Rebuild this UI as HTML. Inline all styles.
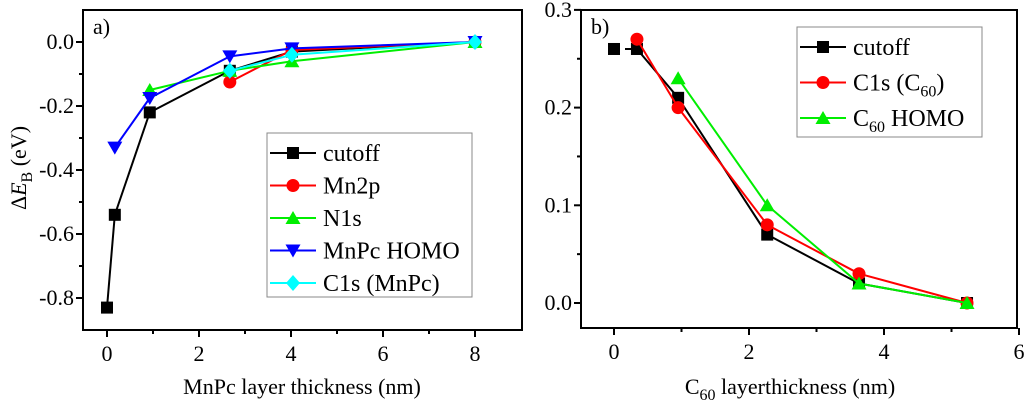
<!DOCTYPE html>
<html><head><meta charset="utf-8"><style>
html,body{margin:0;padding:0;background:#fff;}
svg{display:block;}
svg text{font-family:"Liberation Serif","Times New Roman",Times,"DejaVu Serif",serif !important;}
</style></head><body>
<svg id="c" width="1024" height="408" viewBox="0 0 1024 408" xmlns="http://www.w3.org/2000/svg"></svg>
<script>
// Panel a data
const aCutoffX=[0,0.17,0.93,2.67,4.02,8], aCutoffY=[-0.83,-0.54,-0.22,-0.09,-0.03,0];
const aMn2pX=[2.67,4.02,8], aMn2pY=[-0.125,-0.025,0];
const aN1sX=[0.93,2.67,4.02,8], aN1sY=[-0.15,-0.09,-0.06,0];
const aHomoX=[0.17,0.93,2.67,4.02,8], aHomoY=[-0.33,-0.175,-0.045,-0.02,0];
const aC1sX=[2.67,4.02,8], aC1sY=[-0.09,-0.04,0];
const aXTicks=[0,2,4,6,8], aYTicks=[0,-0.2,-0.4,-0.6,-0.8];
const aYLabels=["0.0","-0.2","-0.4","-0.6","-0.8"];
// Panel b data
const bCutoffX=[0,0.34,0.95,2.27,3.63,5.23], bCutoffY=[0.26,0.26,0.21,0.07,0.02,0];
const bC1sX=[0.34,0.95,2.27,3.63,5.23], bC1sY=[0.27,0.2,0.08,0.03,0];
const bHomoX=[0.95,2.27,3.63,5.23], bHomoY=[0.23,0.10,0.02,0];
const bXTicks=[0,2,4,6], bYTicks=[0,0.1,0.2,0.3];
const bYLabels=["0.0","0.1","0.2","0.3"];

const svg=document.getElementById('c');
const NS="http://www.w3.org/2000/svg";
function el(tag,attrs,parent){const e=document.createElementNS(NS,tag);for(const k in attrs)e.setAttribute(k,attrs[k]);if(tag==='text')e.setAttribute('style','font-family:"Liberation Serif","Times New Roman",serif');(parent||svg).appendChild(e);return e;}

function marker(g,type,x,y,color){
  let m;
  if(type==='sq') m=el('rect',{x:x-6,y:y-6,width:12,height:12,fill:color},g);
  else if(type==='ci') m=el('circle',{cx:x,cy:y,r:6.5,fill:color},g);
  else if(type==='up') m=el('polygon',{points:`${x},${y-7} ${x-7.5},${y+6} ${x+7.5},${y+6}`,fill:color},g);
  else if(type==='dn') m=el('polygon',{points:`${x},${y+7} ${x-7.5},${y-6} ${x+7.5},${y-6}`,fill:color},g);
  else m=el('polygon',{points:`${x},${y-8} ${x+7},${y} ${x},${y+8} ${x-7},${y}`,fill:color},g);
  
  
}
function series(name,xs,ys,sx,sy,color,type,dashFirst){
  const g=el('g',{});
  
  
  for(let i=0;i<xs.length-1;i++){
    const l=el('line',{x1:sx(xs[i]),y1:sy(ys[i]),x2:sx(xs[i+1]),y2:sy(ys[i+1]),stroke:color,'stroke-width':2},g);
    if(dashFirst&&i===0)l.setAttribute('stroke-dasharray','6,5');
  }
  xs.forEach((x,i)=>marker(g,type,sx(x),sy(ys[i]),color));
}
function frame(name,L,T,R,B,sx,sy,xt,xMinor,yt,ylab,yMinor){
  const g=el('g',{});
  
  
  el('rect',{x:L,y:T,width:R-L,height:B-T,fill:'none',stroke:'#000','stroke-width':2},g);
  xt.forEach(v=>{const x=sx(v);el('line',{x1:x,y1:B,x2:x,y2:B+7,stroke:'#000','stroke-width':2},g);
    const t=el('text',{x:x,y:B+31,'font-size':22,'text-anchor':'middle'},g);t.textContent=v;
    });
  xMinor.forEach(v=>{const x=sx(v);el('line',{x1:x,y1:B,x2:x,y2:B+4,stroke:'#000','stroke-width':2},g);});
  yt.forEach((v,i)=>{const y=sy(v);el('line',{x1:L-7,y1:y,x2:L,y2:y,stroke:'#000','stroke-width':2},g);
    const t=el('text',{x:L-9,y:y+7,'font-size':22,'text-anchor':'end'},g);t.textContent=ylab[i];
    });
  yMinor.forEach(v=>{const y=sy(v);el('line',{x1:L-4,y1:y,x2:L,y2:y,stroke:'#000','stroke-width':2},g);});
}
// Panel a
const aL=83,aT=10,aR=522,aB=330;
const ax=v=>107+v*46, ay=v=>42-v*320;
frame('panel-a-axes',aL,aT,aR,aB,ax,ay,aXTicks,[1,3,5,7],aYTicks,aYLabels,[-0.1,-0.3,-0.5,-0.7]);
series('series-cutoff-a',aCutoffX,aCutoffY,ax,ay,'#000','sq');
series('series-mn2p',aMn2pX,aMn2pY,ax,ay,'#ff0000','ci');
series('series-n1s',aN1sX,aN1sY,ax,ay,'#00ee00','up');
series('series-mnpc-homo',aHomoX,aHomoY,ax,ay,'#0000ff','dn');
series('series-c1s-mnpc',aC1sX,aC1sY,ax,ay,'#00ffff','di');
// Panel b
const bL=581,bT=10,bR=1017,bB=328;
const bx=v=>614+v*67.5, by=v=>303-v*977;
frame('panel-b-axes',bL,bT,bR,bB,bx,by,bXTicks,[1,3,5],bYTicks,bYLabels,[0.05,0.15,0.25]);
series('series-cutoff-b',bCutoffX,bCutoffY,bx,by,'#000','sq',true);
series('series-c1s-c60',bC1sX,bC1sY,bx,by,'#ff0000','ci');
series('series-c60-homo',bHomoX,bHomoY,bx,by,'#00ee00','up');

function legend(name,x,y,w,h,items,rowH){
  const g=el('g',{});
  
  
  el('rect',{x:x,y:y,width:w,height:h,fill:'#fff',stroke:'#888','stroke-width':1},g);
  items.forEach((it,i)=>{
    const cy=y+20+i*rowH;
    const e=el('g',{},g);
    
    
    el('line',{x1:x+3,y1:cy,x2:x+49,y2:cy,stroke:it[1],'stroke-width':2},e);
    marker(e,it[2],x+26,cy,it[1]);
    const t=el('text',{x:x+56,y:cy+8,'font-size':24},e);
    t.innerHTML=it[0];
  });
}
legend('legend-a',267,133,205,164,[['cutoff','#000','sq'],['Mn2p','#ff0000','ci'],['N1s','#00ee00','up'],['MnPc HOMO','#0000ff','dn'],['C1s (MnPc)','#00ffff','di']],32.5);
legend('legend-b',797,27,185,110,[['cutoff','#000','sq'],['C1s (C<tspan font-size="16" dy="6">60</tspan><tspan dy="-6">)</tspan>','#ff0000','ci'],['C<tspan font-size="16" dy="6">60</tspan><tspan dy="-6">  HOMO</tspan>','#00ee00','up']],35.5);

function txt(name,x,y,size,html,extra){const t=el('text',Object.assign({x:x,y:y,'font-size':size},extra||{}));t.innerHTML=html;
  return t;}
txt('panel-a-label',93,34,22,'a)');
txt('panel-b-label',591,34,22,'b)');
txt('x-axis-title-a',302,394,22,'MnPc layer thickness (nm)',{'text-anchor':'middle'});
txt('x-axis-title-b',790,394,22,'C<tspan font-size="16" dy="6">60</tspan><tspan dy="-6"> layerthickness (nm)</tspan>',{'text-anchor':'middle'});
txt('y-axis-title',0,0,22,'Δ<tspan font-style="italic">E</tspan><tspan font-size="16" dy="6">B</tspan><tspan dy="-6"> (eV)</tspan>',{'text-anchor':'middle',transform:'translate(26,168) rotate(-90)'});
</script>
</body></html>
